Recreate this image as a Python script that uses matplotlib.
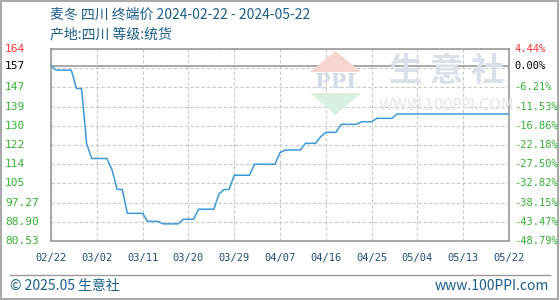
"""
麦冬 四川 终端价 走势图
"""
import matplotlib
matplotlib.use('Agg')
import matplotlib.pyplot as plt
import matplotlib.dates as mdates
import matplotlib.transforms as mtransforms
from matplotlib.patches import Polygon, Rectangle
from matplotlib.lines import Line2D
import pandas as pd

plt.rcParams['font.family'] = ['Noto Sans CJK SC', 'DejaVu Sans']

# 价格数据 (变化点)
dates = ['2024-02-22', '2024-02-23', '2024-02-26', '2024-02-27', '2024-02-28',
         '2024-02-29', '2024-03-01', '2024-03-04', '2024-03-05', '2024-03-06',
         '2024-03-07', '2024-03-08', '2024-03-11', '2024-03-12', '2024-03-14',
         '2024-03-15', '2024-03-18', '2024-03-19', '2024-03-21', '2024-03-22',
         '2024-03-25', '2024-03-26', '2024-03-27', '2024-03-28', '2024-03-29',
         '2024-04-01', '2024-04-02', '2024-04-06', '2024-04-07', '2024-04-08',
         '2024-04-11', '2024-04-12', '2024-04-14', '2024-04-15', '2024-04-16',
         '2024-04-18', '2024-04-19', '2024-04-22', '2024-04-23', '2024-04-25',
         '2024-04-26', '2024-04-29', '2024-04-30', '2024-05-22']
prices = [157, 155, 155, 147, 147,
          123, 116.5, 116.5, 111.5, 103,
          103, 92.6, 92.6, 89.1, 89.1,
          88, 88, 90, 90, 94.4,
          94.4, 101, 103, 103, 109.2,
          109.2, 114, 114, 119, 120.2,
          120.2, 123.1, 123.1, 126, 127.9,
          127.9, 131.4, 131.4, 132.5, 132.5,
          134, 134, 135.9, 135.9]

base_price = 157
y_grid = [80.53, 88.90, 97.27, 105.64, 114.01, 122.38, 130.75, 139.12, 147.49, 155.86, 164.23]
left_labels = ['80.53', '88.90', '97.27', '105', '114', '122', '130', '139', '147', '', '164']
right_labels = ['-48.79%', '-43.47%', '-38.15%', '-32.82%', '-27.50%', '-22.18%',
                '-16.86%', '-11.53%', '-6.21%', '', '4.44%']
x_ticks = ['2024-02-22', '2024-03-02', '2024-03-11', '2024-03-20', '2024-03-29', '2024-04-07',
           '2024-04-16', '2024-04-25', '2024-05-04', '2024-05-13', '2024-05-22']

GREEN = '#33b233'
RED = '#ff3333'
BLUE_TXT = '#1b5e8c'

fig = plt.figure(figsize=(5.6, 3.0), dpi=100)
ax = fig.add_axes([51 / 560, 1 - 241 / 300, 458 / 560, 192 / 300])

x = pd.to_datetime(dates)
xt = pd.to_datetime(x_ticks)

# 水印
wm_color = '#dadfea'
fig.patches.append(Polygon([(310 / 560, 1 - 72 / 300), (361 / 560, 1 - 72 / 300), (335.5 / 560, 1 - 51 / 300)],
                           closed=True, transform=fig.transFigure, facecolor='#f7d6d0', edgecolor='none', zorder=0))
fig.patches.append(Polygon([(310 / 560, 1 - 93 / 300), (361 / 560, 1 - 93 / 300), (335.5 / 560, 1 - 115 / 300)],
                           closed=True, transform=fig.transFigure, facecolor='#d8f0e0', edgecolor='none', zorder=0))
fig.text(335.5 / 560, 1 - 82 / 300, 'PPI', ha='center', va='center', fontsize=15, color='#d3dae8',
         family='DejaVu Serif', weight='bold', zorder=0)
fig.text(447 / 560, 1 - 72 / 300, '生 意 社', ha='center', va='center', fontsize=24, color=wm_color,
         weight='bold', zorder=0)
fig.text(446 / 560, 1 - 106 / 300, 'WWW.100PPI.COM', ha='center', va='center', fontsize=10.5,
         color='#e4e4e4', family='DejaVu Sans', zorder=0)

ax.patch.set_alpha(0)
ax.plot(x, prices, color='#3a9ad9', linewidth=1.1, zorder=3)
ax.axhline(base_price, color='#999999', linewidth=1.2, zorder=2)

ax.set_xlim(xt[0], xt[-1])
ax.set_ylim(y_grid[0], y_grid[-1])
ax.set_yticks(y_grid)
ax.set_xticks(xt)
ax.xaxis.set_major_formatter(mdates.DateFormatter('%m/%d'))
ax.grid(True, color='#c8c8c8', linestyle=(0, (3, 2)), linewidth=0.8)
ax.tick_params(axis='y', length=0, labelleft=False)
ax.tick_params(axis='x', length=0, pad=9, labelsize=7.5, labelcolor='#1f4e79')
for lab in ax.get_xticklabels():
    lab.set_family('DejaVu Sans Mono')
for sp in ax.spines.values():
    sp.set_color('#999999')
    sp.set_linewidth(1.2)

# 左右刻度标签
tl = mtransforms.blended_transform_factory(fig.transFigure, ax.transData)
for v, s in zip(y_grid, left_labels):
    if s:
        fig.text(5 / 560, v, s, transform=tl, ha='left', va='center', fontsize=8,
                 color=RED if v == y_grid[-1] else GREEN, family='DejaVu Sans Mono')
for v, s in zip(y_grid, right_labels):
    if s:
        fig.text(514 / 560, v, s, transform=tl, ha='left', va='center', fontsize=7.5,
                 color=RED if v == y_grid[-1] else GREEN, family='DejaVu Sans Mono')
fig.text(5 / 560, base_price, '157', transform=tl, ha='left', va='center', fontsize=8,
         color='black', family='DejaVu Sans Mono')
fig.text(514 / 560, base_price, '0.00%', transform=tl, ha='left', va='center', fontsize=7.5,
         color='black', family='DejaVu Sans Mono')

# 标题
fig.text(50 / 560, 1 - 15 / 300, '麦冬 四川 终端价 2024-02-22 - 2024-05-22', ha='left', va='center',
         fontsize=10, color=BLUE_TXT)
fig.text(50 / 560, 1 - 34 / 300, '产地:四川 等级:统货', ha='left', va='center',
         fontsize=10, color=BLUE_TXT)

# 底部
fig.lines.append(Line2D([10 / 560, 550 / 560], [1 - 275 / 300, 1 - 275 / 300],
                        transform=fig.transFigure, color='#999999', linewidth=1))
fig.text(10 / 560, 1 - 286 / 300, '© 2025.05 生意社', ha='left', va='center', fontsize=10, color=BLUE_TXT)
fig.text(549 / 560, 1 - 286 / 300, 'www.100PPI.com', ha='right', va='center', fontsize=10, color=BLUE_TXT)

fig.patches.append(Rectangle((0.002, 0.003), 0.995, 0.994, transform=fig.transFigure,
                             fill=False, edgecolor='#999999', linewidth=1.2))

fig.savefig('out.png', dpi=100)
